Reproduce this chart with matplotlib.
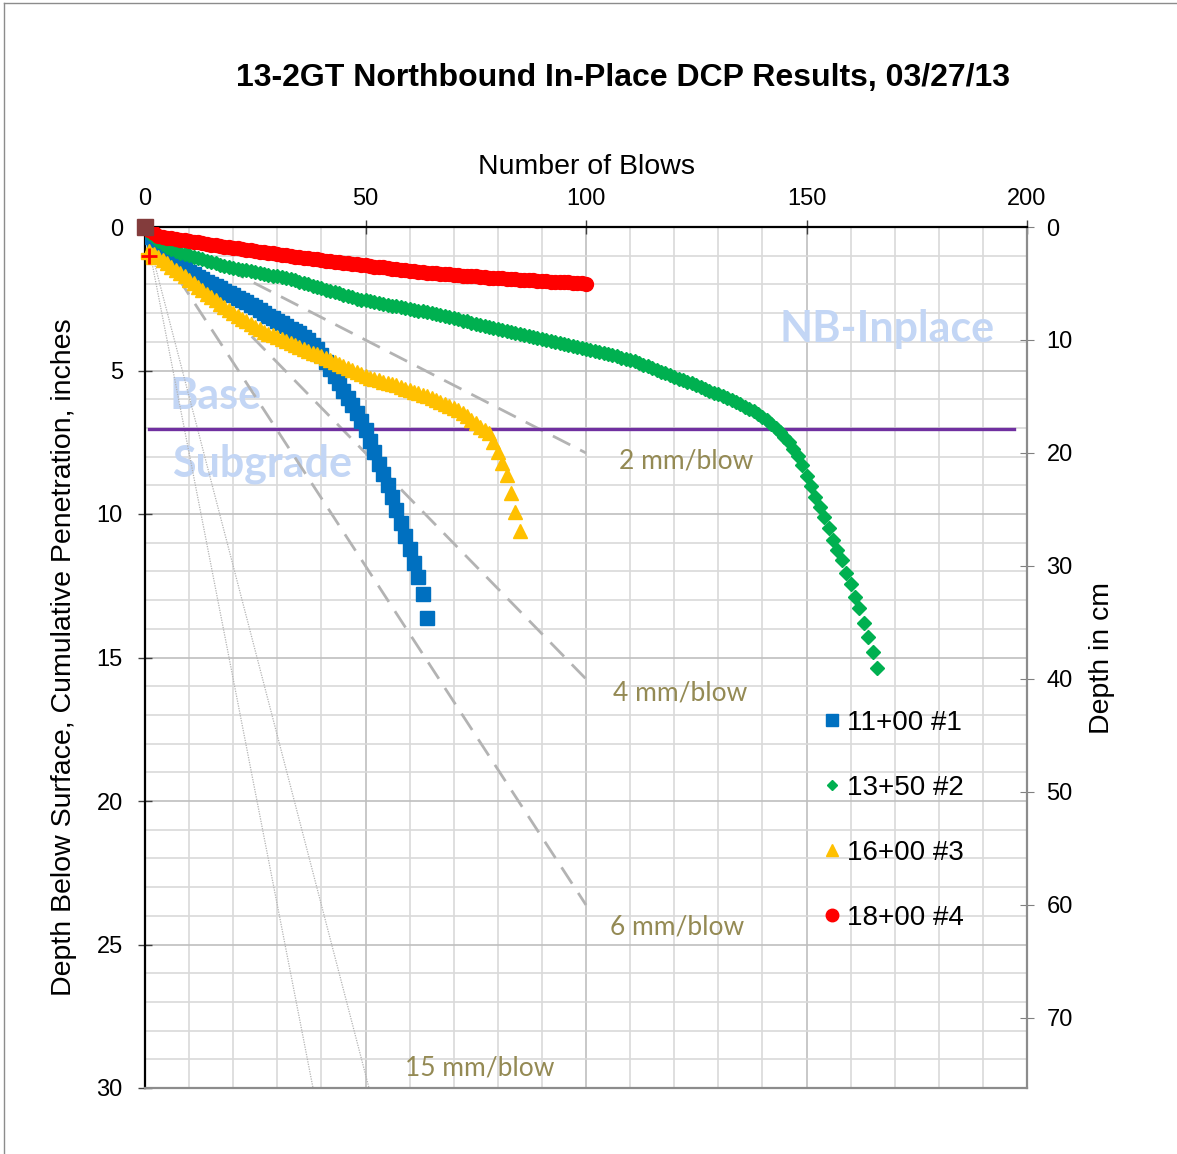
import numpy as np
import matplotlib
matplotlib.use("Agg")
import matplotlib.pyplot as plt
from matplotlib.lines import Line2D

plt.rcParams['font.family'] = ['Liberation Sans', 'DejaVu Sans']

# cumulative penetration (inches) per blow
depth_1100 = [0.0, 0.35, 0.55, 0.75, 0.9, 1.02, 1.13, 1.25, 1.38, 1.47,
              1.56, 1.65, 1.73, 1.82, 1.9, 1.98, 2.06, 2.14, 2.22, 2.3,
              2.38, 2.46, 2.54, 2.62, 2.71, 2.8, 2.9, 3.0, 3.09, 3.18,
              3.27, 3.36, 3.45, 3.54, 3.62, 3.7, 3.82, 3.95, 4.1, 4.25,
              4.45, 4.7, 4.95, 5.2, 5.45, 5.7, 5.95, 6.2, 6.48, 6.76,
              7.07, 7.45, 7.85, 8.25, 8.62, 9.0, 9.42, 9.85, 10.3, 10.78,
              11.22, 11.7, 12.2, 12.8, 13.62]

depth_1350 = [0.0, 0.2, 0.35, 0.5, 0.6, 0.68, 0.75, 0.82, 0.9, 0.95,
              0.99, 1.04, 1.08, 1.13, 1.17, 1.22, 1.27, 1.31, 1.36, 1.4,
              1.43, 1.46, 1.49, 1.51, 1.54, 1.57, 1.6, 1.63, 1.66, 1.69,
              1.72, 1.75, 1.79, 1.82, 1.85, 1.9, 1.94, 1.99, 2.04, 2.08,
              2.13, 2.18, 2.22, 2.27, 2.31, 2.36, 2.41, 2.45, 2.5, 2.53,
              2.56, 2.59, 2.62, 2.65, 2.68, 2.71, 2.74, 2.76, 2.79, 2.82,
              2.85, 2.88, 2.91, 2.94, 2.97, 3.0, 3.04, 3.07, 3.11, 3.15,
              3.18, 3.22, 3.26, 3.29, 3.33, 3.37, 3.4, 3.44, 3.48, 3.51,
              3.55, 3.58, 3.62, 3.65, 3.69, 3.72, 3.76, 3.79, 3.83, 3.86,
              3.89, 3.93, 3.96, 4.0, 4.03, 4.07, 4.1, 4.14, 4.17, 4.21,
              4.24, 4.28, 4.31, 4.35, 4.39, 4.43, 4.47, 4.51, 4.56, 4.6,
              4.64, 4.68, 4.74, 4.8, 4.86, 4.92, 4.98, 5.04, 5.1, 5.16,
              5.22, 5.28, 5.34, 5.39, 5.45, 5.51, 5.57, 5.64, 5.7, 5.77,
              5.83, 5.9, 5.96, 6.03, 6.1, 6.18, 6.26, 6.34, 6.42, 6.5,
              6.62, 6.74, 6.87, 7.0, 7.15, 7.32, 7.5, 7.72, 7.98, 8.29,
              8.68, 9.02, 9.4, 9.76, 10.1, 10.5, 10.9, 11.25, 11.6, 12.05,
              12.45, 12.88, 13.29, 13.8, 14.3, 14.8, 15.38]

depth_1600 = [0.0, 0.85, 0.95, 1.05, 1.15, 1.27, 1.38, 1.49, 1.6, 1.72,
              1.84, 1.96, 2.08, 2.2, 2.32, 2.43, 2.55, 2.67, 2.78, 2.9,
              3.0, 3.1, 3.19, 3.28, 3.38, 3.47, 3.56, 3.65, 3.72, 3.78,
              3.85, 3.91, 3.98, 4.04, 4.11, 4.17, 4.24, 4.31, 4.38, 4.44,
              4.51, 4.58, 4.65, 4.72, 4.79, 4.86, 4.93, 4.99, 5.06, 5.13,
              5.2, 5.25, 5.29, 5.34, 5.39, 5.43, 5.48, 5.52, 5.57, 5.63,
              5.68, 5.74, 5.79, 5.85, 5.9, 5.96, 6.03, 6.1, 6.17, 6.24,
              6.31, 6.38, 6.49, 6.6, 6.72, 6.84, 6.96, 7.08, 7.19, 7.48,
              7.83, 8.22, 8.64, 9.27, 9.93, 10.6]

depth_1800 = [0.0, 0.12, 0.22, 0.3, 0.35, 0.38, 0.4, 0.42, 0.45, 0.47,
              0.49, 0.52, 0.54, 0.56, 0.59, 0.61, 0.63, 0.65, 0.68, 0.7,
              0.72, 0.74, 0.77, 0.79, 0.81, 0.83, 0.86, 0.88, 0.9, 0.92,
              0.95, 0.97, 0.99, 1.01, 1.03, 1.05, 1.07, 1.09, 1.11, 1.13,
              1.15, 1.17, 1.19, 1.21, 1.22, 1.24, 1.26, 1.28, 1.3, 1.32,
              1.34, 1.36, 1.38, 1.39, 1.41, 1.43, 1.45, 1.47, 1.49, 1.5,
              1.52, 1.54, 1.56, 1.58, 1.59, 1.6, 1.61, 1.63, 1.64, 1.65,
              1.66, 1.67, 1.69, 1.7, 1.71, 1.72, 1.73, 1.75, 1.76, 1.77,
              1.78, 1.79, 1.8, 1.81, 1.82, 1.83, 1.84, 1.85, 1.86, 1.87,
              1.88, 1.89, 1.9, 1.91, 1.92, 1.93, 1.93, 1.94, 1.95, 1.96,
              1.97]

labels = ["11+00 #1", "13+50 #2", "16+00 #3", "18+00 #4"]

# reference penetration-rate lines (mm/blow)
dashed_rates = [2, 4, 6]
dashed_labels = ["2 mm/blow", "4 mm/blow", "6 mm/blow"]
dotted_rates = [15, 20]
dotted_label = "15 mm/blow"

# base/subgrade interface
interface_blows = [1, 197]
interface_depth = [7.05, 7.05]

fig = plt.figure(figsize=(11.77, 11.54), dpi=100)
ax = fig.add_axes([145/1177, 1-1088/1154, 882/1177, 861/1154])

# grid
ax.set_xlim(0, 200)
ax.set_ylim(30, 0)
ax.set_xticks(np.arange(0, 201, 50))
ax.set_yticks(np.arange(0, 31, 5))
ax.set_xticks(np.arange(0, 201, 10), minor=True)
ax.set_yticks(np.arange(0, 31, 1), minor=True)
ax.grid(True, which='minor', color='#d9d9d9', lw=1.2)
ax.grid(True, which='major', color='#bfbfbf', lw=1.2)
ax.set_axisbelow(True)

# reference lines
for r, lab in zip(dashed_rates, dashed_labels):
    x_end = 100
    ax.plot([0, x_end], [0, x_end*r/25.4], ls=(0, (7, 4)), color='#b3b3b3', lw=2, zorder=2)
for r in dotted_rates:
    x_end = 30*25.4/r
    ax.plot([0, x_end], [0, 30], ls=(0, (1, 1)), color='#b3b3b3', lw=0.9, zorder=2)

txt_col = '#948a54'
ax.text(122.7, 8.15, dashed_labels[0], color=txt_col, fontsize=19, family='Lato', ha='center', va='center')
ax.text(121.3, 16.24, dashed_labels[1], color=txt_col, fontsize=19, family='Lato', ha='center', va='center')
ax.text(120.6, 24.4, dashed_labels[2], color=txt_col, fontsize=19, family='Lato', ha='center', va='center')
ax.text(76, 29.3, dotted_label, color=txt_col, fontsize=19, family='Lato', ha='center', va='center')

ax.plot(interface_blows, interface_depth, color='#7030a0', lw=2.4, zorder=3)

lb = '#c3d6f5'
ax.text(168.3, 3.55, "NB-Inplace", color=lb, fontsize=31, fontweight='bold', family='Lato', ha='center', va='center', zorder=1)
ax.text(16.0, 5.9, "Base", color=lb, fontsize=31, fontweight='bold', family='Lato', ha='center', va='center', zorder=1)
ax.text(26.5, 8.25, "Subgrade", color=lb, fontsize=31, fontweight='bold', family='Lato', ha='center', va='center', zorder=1)

series = [depth_1100, depth_1350, depth_1600, depth_1800]
colors = ['#0070c0', '#00b050', '#ffc000', '#ff0000']
markers = ['s', 'D', '^', 'o']
sizes = [10, 7, 10, 10]
for d, lab, c, m, s in zip(series, labels, colors, markers, sizes):
    ax.plot(np.arange(len(d)), d, ls='none', marker=m, ms=s, color=c, mec=c, label=lab, zorder=4)

# start markers
ax.plot([0], [0], ls='none', marker='s', ms=11, color='#833c3c', zorder=6, clip_on=False)
ax.plot([0.8], [1.0], ls='none', marker='P', ms=12, color='#ffc000', zorder=6, clip_on=False)
ax.plot([0.8], [1.0], ls='none', marker='+', ms=12, mew=2, color='#ff0000', zorder=7, clip_on=False)

leg_sizes = [9, 5.5, 9, 9]
handles = [Line2D([], [], ls='none', marker=m, ms=s, color=c) for m, s, c in zip(markers, leg_sizes, colors)]
ax.legend(handles, labels, loc='upper left', bbox_to_anchor=(0.747, 0.455), frameon=False,
          fontsize=20, labelspacing=1.4, handletextpad=0.05, handlelength=1.0, borderpad=0)

# axes styling
ax.xaxis.tick_top()
ax.xaxis.set_label_position('top')
ax.tick_params(axis='both', which='major', direction='inout', length=10, width=1, labelsize=17, color='#404040')
ax.tick_params(axis='both', which='minor', length=0)
ax.tick_params(axis='x', pad=7)
ax.tick_params(axis='y', pad=11)
ax.set_xlabel("Number of Blows", fontsize=20.5, labelpad=10)
ax.set_ylabel("Depth Below Surface, Cumulative Penetration, inches", fontsize=20.5, labelpad=14)
for side in ['left', 'top']:
    ax.spines[side].set_color('black')
    ax.spines[side].set_linewidth(1.6)
for side in ['right', 'bottom']:
    ax.spines[side].set_color('#8c8c8c')
    ax.spines[side].set_linewidth(1.6)

sec = ax.secondary_yaxis('right', functions=(lambda v: v*2.54, lambda v: v/2.54))
sec.set_yticks(np.arange(0, 71, 10))
sec.tick_params(direction='inout', length=10, labelsize=17, pad=9, color='#808080')
sec.spines['right'].set_visible(False)
sec.set_ylabel("Depth in cm", fontsize=20.5, labelpad=12)

fig.text(623/1177, 1-78/1154, "13-2GT Northbound In-Place DCP Results, 03/27/13",
         fontsize=23, fontweight='bold', ha='center', va='center')

# chart border
fig.add_artist(Line2D([4/1177, 4/1177], [0, 1-3/1154], color='#8c8c8c', lw=1))
fig.add_artist(Line2D([4/1177, 1], [1-3/1154, 1-3/1154], color='#8c8c8c', lw=1))

fig.savefig("out.png", dpi=100)
